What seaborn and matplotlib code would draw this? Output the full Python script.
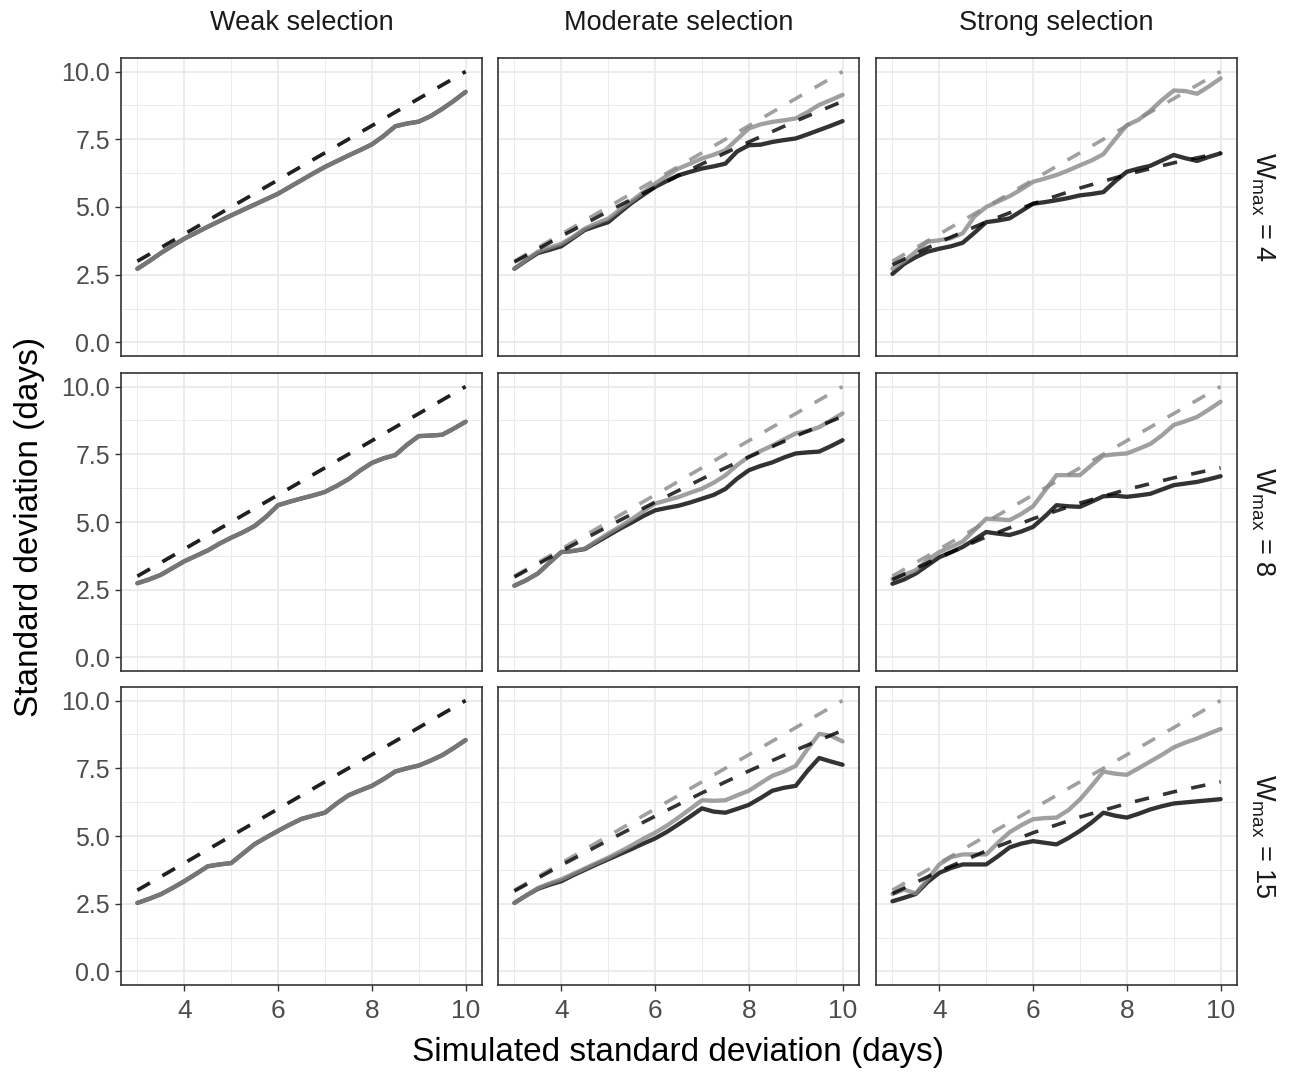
import matplotlib
matplotlib.use("Agg")
import matplotlib.pyplot as plt
from matplotlib.ticker import FixedLocator
import seaborn as sns
import pandas as pd

sns.set_style("white")
plt.rcParams['font.family'] = ['Liberation Sans', 'DejaVu Sans']
plt.rcParams['mathtext.fontset'] = 'custom'
plt.rcParams['mathtext.rm'] = 'Liberation Sans'
plt.rcParams['mathtext.it'] = 'Liberation Sans:italic'

# ---------------- data ----------------
selection_labels = ["Weak selection", "Moderate selection", "Strong selection"]
wmax_values = [4, 8, 15]

sim_sd = [3.0, 3.25, 3.5, 3.75, 4.0, 4.25, 4.5, 4.75, 5.0, 5.25, 5.5, 5.75, 6.0, 6.25,
          6.5, 6.75, 7.0, 7.25, 7.5, 7.75, 8.0, 8.25, 8.5, 8.75, 9.0, 9.25, 9.5, 9.75, 10.0]

exp_x = [3, 4, 5, 6, 7, 8, 9, 10]
exp_neutral = [3.0, 4.0, 5.0, 6.0, 7.0, 8.0, 9.0, 10.0]
exp_weak = [3.0, 4.0, 5.0, 6.0, 7.0, 8.0, 9.0, 10.0]
exp_moderate = [2.97, 3.92, 4.84, 5.73, 6.59, 7.40, 8.17, 8.90]
exp_strong = [2.87, 3.70, 4.45, 5.12, 5.70, 6.20, 6.63, 7.00]

# weak selection (black and grey estimates coincide)
gray_weak_w4 = [2.72, 3.0, 3.3, 3.57, 3.83, 4.05, 4.27, 4.48, 4.69, 4.89, 5.09, 5.29, 5.49, 5.74,
                5.99, 6.24, 6.48, 6.69, 6.9, 7.1, 7.31, 7.62, 7.98, 8.08, 8.15, 8.35, 8.62, 8.92, 9.25]
black_weak_w4 = [2.72, 3.0, 3.3, 3.57, 3.83, 4.05, 4.27, 4.48, 4.69, 4.89, 5.09, 5.29, 5.49, 5.74,
                 5.99, 6.24, 6.48, 6.69, 6.9, 7.1, 7.31, 7.62, 7.98, 8.08, 8.15, 8.35, 8.62, 8.92, 9.25]
gray_weak_w8 = [2.74, 2.88, 3.05, 3.3, 3.55, 3.75, 3.95, 4.2, 4.42, 4.62, 4.85, 5.2, 5.62, 5.75,
                5.87, 5.98, 6.11, 6.33, 6.58, 6.9, 7.18, 7.35, 7.47, 7.85, 8.17, 8.19, 8.22, 8.45, 8.7]
black_weak_w8 = [2.74, 2.88, 3.05, 3.3, 3.55, 3.75, 3.95, 4.2, 4.42, 4.62, 4.85, 5.2, 5.62, 5.75,
                 5.87, 5.98, 6.11, 6.33, 6.58, 6.9, 7.18, 7.35, 7.47, 7.85, 8.17, 8.19, 8.22, 8.45, 8.7]
gray_weak_w15 = [2.53, 2.68, 2.85, 3.08, 3.33, 3.6, 3.88, 3.95, 4.0, 4.35, 4.7, 4.95, 5.19, 5.42,
                 5.63, 5.75, 5.86, 6.2, 6.5, 6.68, 6.85, 7.1, 7.38, 7.5, 7.6, 7.78, 7.98, 8.25, 8.54]
black_weak_w15 = [2.53, 2.68, 2.85, 3.08, 3.33, 3.6, 3.88, 3.95, 4.0, 4.35, 4.7, 4.95, 5.19, 5.42,
                  5.63, 5.75, 5.86, 6.2, 6.5, 6.68, 6.85, 7.1, 7.38, 7.5, 7.6, 7.78, 7.98, 8.25, 8.54]

# moderate selection
gray_mod_w4 = [2.72, 3.05, 3.35, 3.5, 3.64, 3.9, 4.2, 4.4, 4.57, 4.9, 5.22, 5.55, 5.86, 6.15,
               6.42, 6.6, 6.79, 6.93, 7.1, 7.5, 7.9, 8.05, 8.14, 8.2, 8.27, 8.5, 8.77, 8.95, 9.14]
black_mod_w4 = [2.72, 3.02, 3.3, 3.42, 3.55, 3.85, 4.15, 4.3, 4.44, 4.8, 5.15, 5.45, 5.74, 5.96,
                6.17, 6.3, 6.42, 6.5, 6.6, 7.05, 7.28, 7.3, 7.4, 7.47, 7.53, 7.68, 7.84, 8.0, 8.17]
gray_mod_w8 = [2.65, 2.85, 3.1, 3.5, 3.89, 3.93, 4.02, 4.3, 4.57, 4.83, 5.1, 5.4, 5.68, 5.8,
               5.92, 6.08, 6.23, 6.45, 6.72, 7.1, 7.41, 7.62, 7.82, 8.05, 8.27, 8.35, 8.5, 8.75, 9.01]
black_mod_w8 = [2.65, 2.85, 3.1, 3.5, 3.89, 3.93, 4.0, 4.25, 4.5, 4.75, 4.98, 5.22, 5.43, 5.52,
                5.6, 5.72, 5.86, 6.0, 6.22, 6.6, 6.91, 7.07, 7.2, 7.38, 7.53, 7.57, 7.6, 7.8, 8.02]
gray_mod_w15 = [2.53, 2.8, 3.08, 3.25, 3.4, 3.6, 3.8, 4.0, 4.2, 4.42, 4.65, 4.9, 5.12, 5.38,
                5.68, 6.0, 6.32, 6.3, 6.32, 6.5, 6.67, 6.95, 7.22, 7.38, 7.59, 8.2, 8.77, 8.7, 8.49]
black_mod_w15 = [2.53, 2.8, 3.05, 3.2, 3.33, 3.55, 3.75, 3.95, 4.14, 4.33, 4.52, 4.72, 4.91, 5.15,
                 5.43, 5.72, 6.02, 5.9, 5.86, 6.0, 6.15, 6.4, 6.67, 6.78, 6.85, 7.4, 7.88, 7.75, 7.63]

# strong selection
gray_str_w4 = [2.72, 3.0, 3.35, 3.72, 3.77, 3.85, 4.03, 4.65, 5.0, 5.2, 5.4, 5.65, 5.93, 6.05,
               6.18, 6.35, 6.54, 6.72, 6.95, 7.5, 8.02, 8.22, 8.55, 8.95, 9.3, 9.28, 9.18, 9.45, 9.75]
black_str_w4 = [2.53, 2.9, 3.15, 3.35, 3.46, 3.55, 3.68, 4.05, 4.44, 4.5, 4.58, 4.85, 5.12, 5.18,
                5.25, 5.33, 5.43, 5.48, 5.55, 5.95, 6.3, 6.42, 6.52, 6.72, 6.92, 6.8, 6.7, 6.85, 6.98]
gray_str_w8 = [2.9, 3.05, 3.22, 3.6, 3.89, 4.08, 4.28, 4.7, 5.12, 5.1, 5.07, 5.3, 5.58, 6.15,
               6.73, 6.73, 6.73, 7.1, 7.45, 7.5, 7.53, 7.7, 7.88, 8.2, 8.58, 8.72, 8.88, 9.15, 9.44]
black_str_w8 = [2.72, 2.88, 3.1, 3.4, 3.7, 3.88, 4.08, 4.35, 4.63, 4.57, 4.52, 4.65, 4.82, 5.2,
                5.62, 5.58, 5.56, 5.75, 5.95, 5.97, 5.93, 5.98, 6.04, 6.2, 6.36, 6.42, 6.48, 6.58, 6.69]
gray_str_w15 = [2.86, 3.02, 2.88, 3.4, 3.95, 4.22, 4.32, 4.32, 4.32, 4.75, 5.14, 5.4, 5.62, 5.66,
                5.68, 5.95, 6.35, 6.85, 7.38, 7.3, 7.26, 7.5, 7.75, 8.0, 8.27, 8.45, 8.6, 8.78, 8.95]
black_str_w15 = [2.59, 2.72, 2.86, 3.3, 3.64, 3.82, 3.95, 3.95, 3.95, 4.25, 4.58, 4.72, 4.81, 4.75,
                 4.69, 4.92, 5.19, 5.5, 5.86, 5.75, 5.68, 5.82, 5.98, 6.1, 6.2, 6.24, 6.28, 6.32, 6.36]

# ---------------- assemble ----------------
gray_obs = {("Weak selection", 4): gray_weak_w4, ("Weak selection", 8): gray_weak_w8,
            ("Weak selection", 15): gray_weak_w15,
            ("Moderate selection", 4): gray_mod_w4, ("Moderate selection", 8): gray_mod_w8,
            ("Moderate selection", 15): gray_mod_w15,
            ("Strong selection", 4): gray_str_w4, ("Strong selection", 8): gray_str_w8,
            ("Strong selection", 15): gray_str_w15}
black_obs = {("Weak selection", 4): black_weak_w4, ("Weak selection", 8): black_weak_w8,
             ("Weak selection", 15): black_weak_w15,
             ("Moderate selection", 4): black_mod_w4, ("Moderate selection", 8): black_mod_w8,
             ("Moderate selection", 15): black_mod_w15,
             ("Strong selection", 4): black_str_w4, ("Strong selection", 8): black_str_w8,
             ("Strong selection", 15): black_str_w15}
black_exp = {"Weak selection": exp_weak, "Moderate selection": exp_moderate,
             "Strong selection": exp_strong}

W, H = 1297, 1073
fig = plt.figure(figsize=(W / 100, H / 100), dpi=100)
fig.patch.set_facecolor("white")

col_left = [121, 498, 876]
col_w = 361
row_top = [58, 373, 687]
row_h = 298

BLACK = "#000000"
GRAY = "#888888"
ALPHA = 0.8
LW_SOLID = 3.1
LW_DASH = 2.6
DASH = (0, (4, 4))

for r, wmax in enumerate(wmax_values):
    for c, sel in enumerate(selection_labels):
        ax = fig.add_axes([col_left[c] / W, 1 - (row_top[r] + row_h) / H, col_w / W, row_h / H])
        ax.set_facecolor("white")
        df_b = pd.DataFrame({"x": sim_sd, "y": black_obs[(sel, wmax)]})
        df_g = pd.DataFrame({"x": sim_sd, "y": gray_obs[(sel, wmax)]})
        df_en = pd.DataFrame({"x": exp_x, "y": exp_neutral})
        df_eb = pd.DataFrame({"x": exp_x, "y": black_exp[sel]})
        sns.lineplot(data=df_b, x="x", y="y", ax=ax, color=BLACK, alpha=ALPHA, lw=LW_SOLID,
                     estimator=None, sort=False, zorder=3)
        sns.lineplot(data=df_g, x="x", y="y", ax=ax, color=GRAY, alpha=ALPHA, lw=LW_SOLID,
                     estimator=None, sort=False, zorder=4)
        sns.lineplot(data=df_en, x="x", y="y", ax=ax, color=GRAY, alpha=ALPHA, lw=LW_DASH,
                     linestyle=DASH, estimator=None, sort=False, zorder=5)
        sns.lineplot(data=df_eb, x="x", y="y", ax=ax, color=BLACK, alpha=ALPHA, lw=LW_DASH,
                     linestyle=DASH, estimator=None, sort=False, zorder=6)

        ax.set_xlim(2.65, 10.35)
        ax.set_ylim(-0.5, 10.5)
        ax.xaxis.set_major_locator(FixedLocator([4, 6, 8, 10]))
        ax.xaxis.set_minor_locator(FixedLocator([3, 5, 7, 9]))
        ax.yaxis.set_major_locator(FixedLocator([0, 2.5, 5, 7.5, 10]))
        ax.yaxis.set_minor_locator(FixedLocator([1.25, 3.75, 6.25, 8.75]))
        ax.grid(True, which="major", color="#ebebeb", lw=1.3, zorder=0)
        ax.grid(True, which="minor", color="#ebebeb", lw=0.7, zorder=0)
        ax.set_axisbelow(True)
        for s in ax.spines.values():
            s.set_color("#333333")
            s.set_linewidth(1.2)
            s.set_visible(True)
        ax.set_xlabel("")
        ax.set_ylabel("")
        ax.tick_params(which="major", length=4, width=1.0, color="#333333",
                       labelcolor="#4d4d4d", labelsize=18)
        ax.tick_params(which="minor", length=0)
        if c == 0:
            ax.set_yticklabels(["0.0", "2.5", "5.0", "7.5", "10.0"])
            ax.tick_params(axis="y", left=True, labelleft=True, pad=4)
        else:
            ax.tick_params(axis="y", left=False, labelleft=False)
        if r == 2:
            ax.set_xticklabels(["4", "6", "8", "10"])
            ax.tick_params(axis="x", bottom=True, labelbottom=True, labelsize=19, pad=6)
        else:
            ax.tick_params(axis="x", bottom=False, labelbottom=False)
        if r == 0:
            ax.text(0.5, 1.0 + 35 / row_h, sel, transform=ax.transAxes, ha="center",
                    va="center", fontsize=19.5, color="#1a1a1a")
        if c == 2:
            ax.text(1.0 + 26 / col_w, 0.5, r"W$_{\mathrm{max}}$ = " + str(wmax),
                    transform=ax.transAxes, ha="center", va="center", rotation=270,
                    fontsize=19.5, color="#1a1a1a")

fig.text(678 / W, 1 - 1053 / H, "Simulated standard deviation (days)", ha="center",
         va="center", fontsize=24, color="black")
fig.text(30 / W, 1 - 527 / H, "Standard deviation (days)", ha="center", va="center",
         rotation=90, fontsize=24, color="black")

fig.savefig("out.png", dpi=100, facecolor="white")
